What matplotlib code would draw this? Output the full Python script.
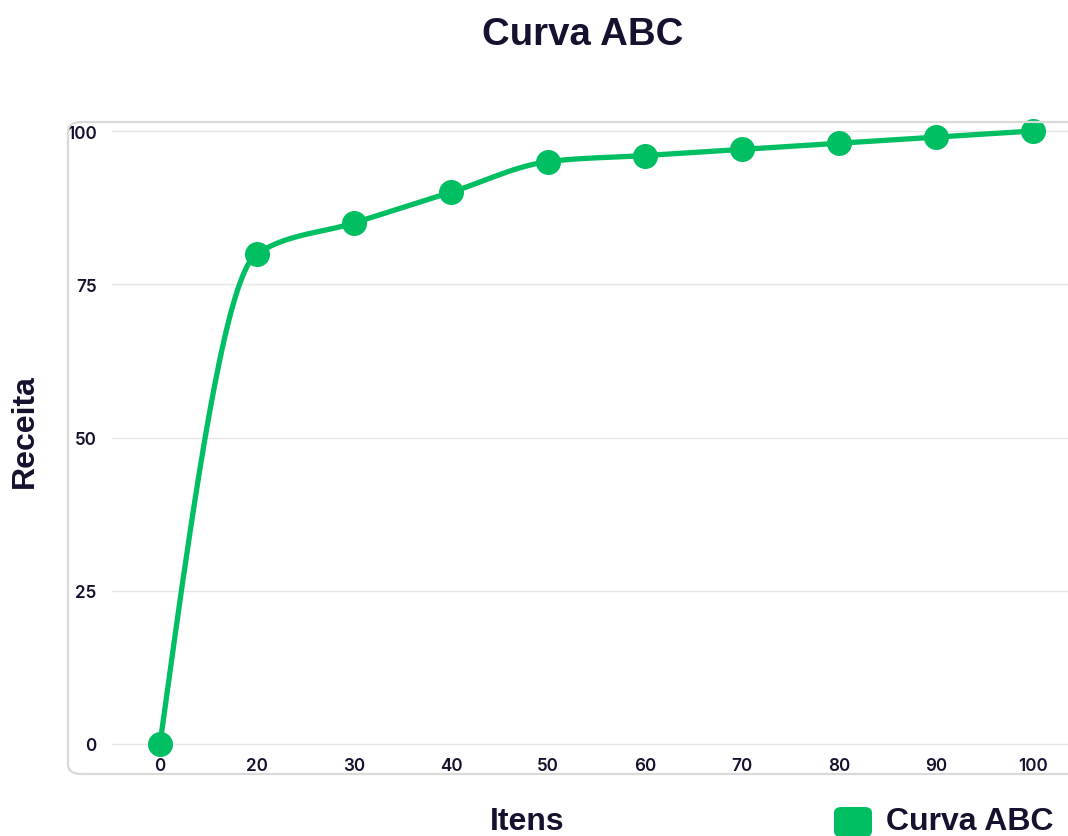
import numpy as np
import matplotlib
matplotlib.use("Agg")
import matplotlib.pyplot as plt
from matplotlib.patches import FancyBboxPatch

categories = ["0", "20", "30", "40", "50", "60", "70", "80", "90", "100"]
values = [0, 80, 85, 90, 95, 96, 97, 98, 99, 100]
y_ticks = [0, 25, 50, 75, 100]
series_name = "Curva ABC"
title = "Curva ABC"
x_label = "Itens"
y_label = "Receita"

GREEN = "#00BF63"
TEXT = "#16112e"
W, H = 1068, 837


def monotone_x(xs, ys, n=40):
    xs = np.asarray(xs, float)
    ys = np.asarray(ys, float)
    m = len(xs)
    h = np.diff(xs)
    s = np.diff(ys) / h
    t = np.zeros(m)
    for i in range(1, m - 1):
        s0, s1 = s[i - 1], s[i]
        p = (s0 * h[i] + s1 * h[i - 1]) / (h[i - 1] + h[i])
        t[i] = (np.sign(s0) + np.sign(s1)) * min(abs(s0), abs(s1), 0.5 * abs(p)) or p
    t[0] = (3 * s[0] - t[1]) / 2
    t[-1] = (3 * s[-1] - t[-2]) / 2
    px, py = [], []
    for i in range(m - 1):
        u = np.linspace(0, 1, n)
        h00 = 2 * u**3 - 3 * u**2 + 1
        h10 = u**3 - 2 * u**2 + u
        h01 = -2 * u**3 + 3 * u**2
        h11 = u**3 - u**2
        px.extend(xs[i] + u * h[i])
        py.extend(h00 * ys[i] + h10 * h[i] * t[i] + h01 * ys[i + 1] + h11 * h[i] * t[i + 1])
    return np.array(px), np.array(py)


fig = plt.figure(figsize=(W / 100, H / 100), dpi=100)

# axes placement in pixels
ax_l, ax_r, ax_t, ax_b = 112, 1068, 123, 755
ax = fig.add_axes([ax_l / W, 1 - ax_b / H, (ax_r - ax_l) / W, (ax_b - ax_t) / H])

x0_px, dx_px = 160, 97.0
y0_px, py_unit = 745, (745 - 132) / 100
ax.set_xlim(-(x0_px - ax_l) / dx_px, (ax_r - x0_px) / dx_px)
ax.set_ylim(-(ax_b - y0_px) / py_unit, 100 + (132 - ax_t) / py_unit)

for sp in ax.spines.values():
    sp.set_visible(False)

xi = np.arange(len(categories))
ax.set_xticks(xi)
ax.set_xticklabels(categories)
ax.set_yticks(y_ticks)
ax.set_yticklabels([str(v) for v in y_ticks])
ax.tick_params(axis="both", length=0, labelsize=12.3, labelcolor=TEXT)
ax.tick_params(axis="y", pad=11)
ax.tick_params(axis="x", pad=2)
for lab in ax.get_xticklabels() + ax.get_yticklabels():
    lab.set_fontfamily("Inter")
    lab.set_fontweight("semibold")
ax.grid(axis="y", color="#e6e6e6", linewidth=1)
ax.grid(axis="x", visible=False)
ax.set_axisbelow(True)

cx, cy = monotone_x(xi, values)
ax.plot(cx, cy, color=GREEN, linewidth=3.8, solid_capstyle="round", clip_on=False, zorder=3)
ax.plot(xi, values, linestyle="none", marker="o", markersize=17, color=GREEN, clip_on=False, zorder=4)

# rounded frame
frame = FancyBboxPatch((68 / W, 1 - 775 / H), (1090 - 68) / W, (775 - 123) / H,
                       boxstyle="round,pad=0,rounding_size=0.012", transform=fig.transFigure,
                       facecolor="none", edgecolor="#d9d9d9", linewidth=1.6, zorder=0)
fig.patches.append(frame)

fig.text(583 / W, 1 - 35 / H, title, ha="center", va="center", fontsize=27.6,
         fontweight="bold", family="Liberation Sans", color=TEXT)
fig.text(25 / W, 1 - 431 / H, y_label, ha="center", va="center", rotation=90, fontsize=23,
         fontweight="bold", family="Liberation Sans", color=TEXT)
fig.text(527 / W, 1 - 822 / H, x_label, ha="center", va="center", fontsize=23,
         fontweight="bold", family="Liberation Sans", color=TEXT)

# legend
leg = FancyBboxPatch((834 / W, 1 - 838 / H), 38 / W, 30 / H,
                     boxstyle="round,pad=0,rounding_size=0.007", transform=fig.transFigure,
                     facecolor=GREEN, edgecolor="none")
fig.patches.append(leg)
fig.text(886 / W, 1 - 822 / H, series_name, ha="left", va="center", fontsize=23,
         fontweight="bold", family="Liberation Sans", color=TEXT)

fig.savefig("out.png", dpi=100, facecolor="white")
